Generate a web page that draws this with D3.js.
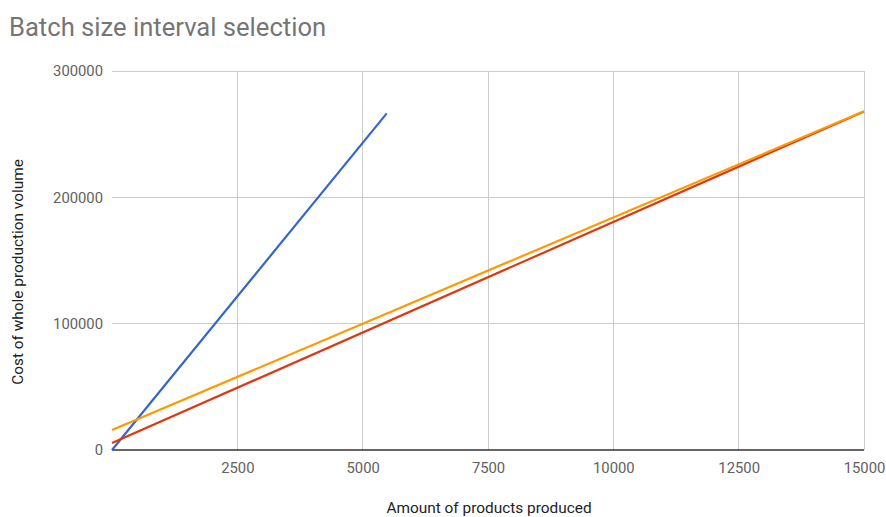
<!DOCTYPE html>
<html><head><meta charset="utf-8">
<script src="https://cdn.jsdelivr.net/npm/d3@7"></script>
<style>body{margin:0;background:#fff;} svg{display:block;font-family:Roboto, "Noto Sans", sans-serif;}</style>
</head><body>
<svg id="chart" width="886" height="517"></svg>
<script>
const title = "Batch size interval selection";
const xTitle = "Amount of products produced";
const yTitle = "Cost of whole production volume";
const xTicks = [0, 2500, 5000, 7500, 10000, 12500, 15000];
const yTicks = [0, 100000, 200000, 300000];
const seriesNames = ["Blue", "Red", "Orange"];
const seriesColors = ["#3366cc", "#dc3912", "#ff9900"];
const blueX = [0, 5480];
const blueY = [0, 266500];
const redX = [0, 15000];
const redY = [5500, 268000];
const orangeX = [0, 15000];
const orangeY = [15800, 268200];

const series = [
  {x: blueX, y: blueY, color: seriesColors[0]},
  {x: redX, y: redY, color: seriesColors[1]},
  {x: orangeX, y: orangeY, color: seriesColors[2]}
];

const svg = d3.select("#chart");
const mLeft = 112, mRight = 864, mTop = 71, mBottom = 450;
const x = d3.scaleLinear().domain([0, 15000]).range([mLeft, mRight]);
const y = d3.scaleLinear().domain([0, 300000]).range([mBottom, mTop]);

svg.append("text").attr("x", 9).attr("y", 36).attr("font-size", 25.6).attr("fill", "#757575").text(title);

// gridlines
svg.append("g").selectAll("line").data(xTicks.slice(1)).join("line")
  .attr("x1", d => x(d)).attr("x2", d => x(d)).attr("y1", mTop).attr("y2", mBottom)
  .attr("stroke", "#cccccc").attr("stroke-width", 1).attr("shape-rendering", "crispEdges");
svg.append("g").selectAll("line").data(yTicks.slice(1)).join("line")
  .attr("x1", mLeft).attr("x2", mRight).attr("y1", d => y(d)).attr("y2", d => y(d))
  .attr("stroke", "#cccccc").attr("stroke-width", 1).attr("shape-rendering", "crispEdges");

// axes labels via d3 axes
const xAxis = d3.axisBottom(x).tickValues(xTicks.slice(1)).tickSize(0).tickPadding(12).tickFormat(d3.format("d"));
const gx = svg.append("g").attr("transform", `translate(0,${mBottom})`).call(xAxis);
gx.select(".domain").remove();
gx.selectAll("text").attr("font-size", 14.8).attr("fill", "#616161").attr("font-family", "Roboto");

const yAxis = d3.axisLeft(y).tickValues(yTicks).tickSize(0).tickPadding(9).tickFormat(d3.format("d"));
const gy = svg.append("g").attr("transform", `translate(${mLeft},0)`).call(yAxis);
gy.select(".domain").remove();
gy.selectAll("text").attr("font-size", 14.8).attr("fill", "#616161").attr("font-family", "Roboto");

// baseline
svg.append("line").attr("x1", mLeft).attr("x2", mRight).attr("y1", mBottom).attr("y2", mBottom)
  .attr("stroke", "#333333").attr("stroke-width", 1.5);

// lines
const line = d3.line().x(d => x(d[0])).y(d => y(d[1]));
series.forEach(s => {
  svg.append("path").datum(s.x.map((v, i) => [v, s.y[i]]))
    .attr("d", line).attr("fill", "none").attr("stroke", s.color).attr("stroke-width", 2.2);
});

svg.append("text").attr("x", 489).attr("y", 513).attr("text-anchor", "middle")
  .attr("font-size", 15.4).attr("fill", "#222").text(xTitle);
svg.append("text").attr("transform", `translate(23,272) rotate(-90)`)
  .attr("text-anchor", "middle").attr("font-size", 15.4).attr("fill", "#222").text(yTitle);
</script>
</body></html>
